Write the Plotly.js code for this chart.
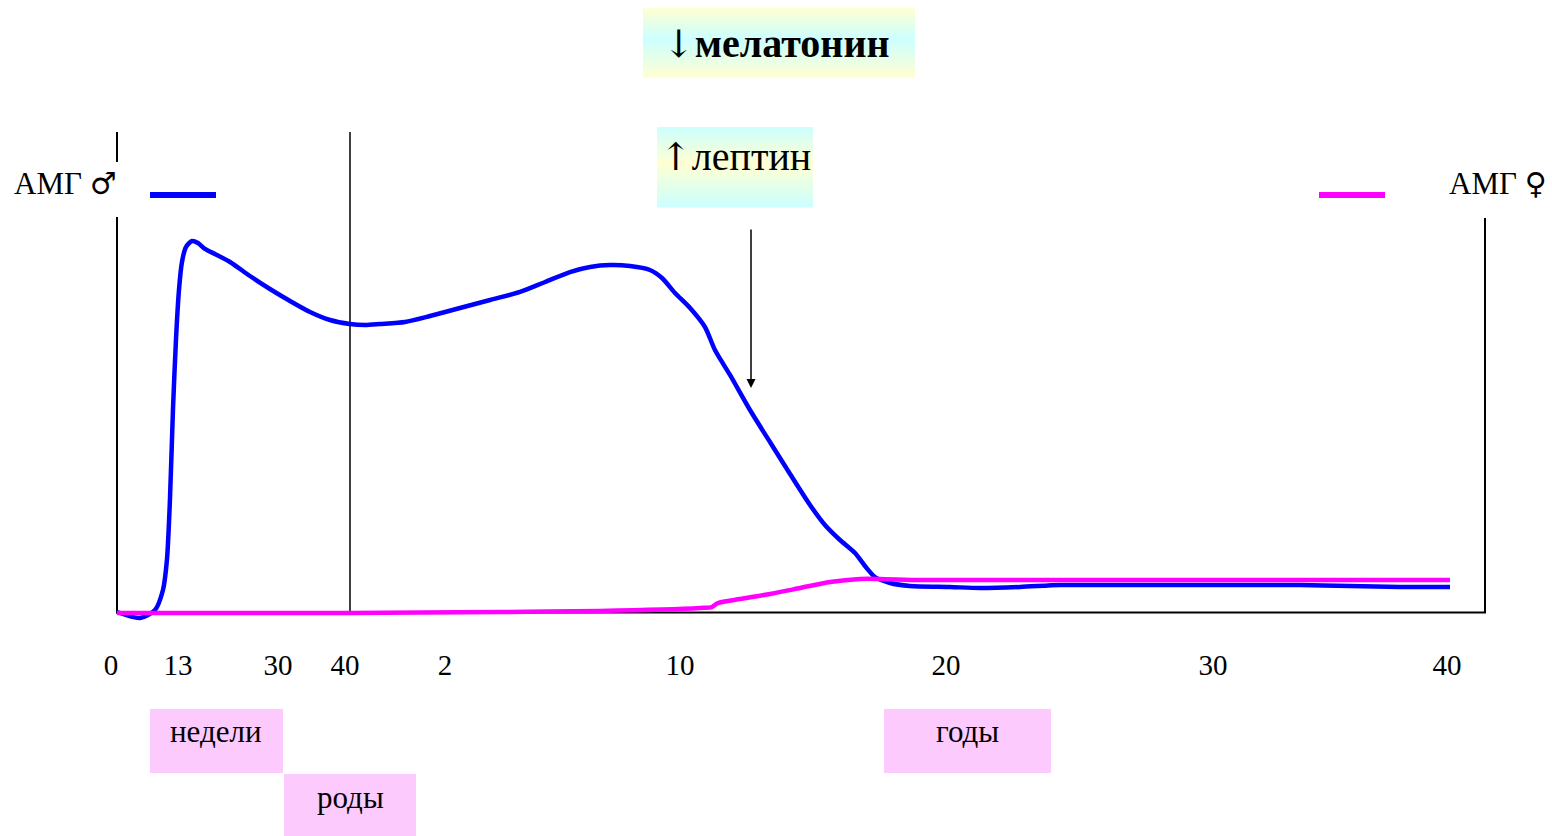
<!DOCTYPE html>
<html>
<head>
<meta charset="utf-8">
<script src="https://cdn.plot.ly/plotly-3.0.1.min.js"></script>
<style>html,body{margin:0;padding:0;background:#fff;}#chart{width:1552px;height:836px;}</style>
</head>
<body>
<div id="chart"></div>
<script>
// ---- data (axis units: x = position along the nonlinear age axis 0..100, y = relative AMH level 0..100)
const tickPositions = [-0.44, 4.46, 11.77, 16.67, 23.98, 41.15, 60.6, 80.12, 97.22];
const tickLabels = ["0", "13", "30", "40", "2", "10", "20", "30", "40"];

const amhMaleX = [0, 1.68, 2.78, 3.36, 3.65, 3.87, 4.09, 4.31, 4.53, 4.75, 5.04, 5.48, 5.92, 6.43, 7.16, 8.26, 9.72, 11.18, 12.65, 14.11, 15.57, 17.03, 18.13, 19.23, 21.05, 22.88, 25.07, 27.27, 29.46, 31.29, 33.11, 34.58, 36.04, 37.5, 38.96, 39.84, 40.79, 41.89, 42.98, 43.71, 44.81, 46.27, 47.73, 49.2, 50.66, 51.75, 52.85, 53.95, 54.68, 55.41, 56.51, 57.97, 60.89, 63.08, 66.01, 68.93, 71.86, 79.17, 86.48, 90.13, 93.79, 97.44];
const amhMaleY = [0, -1.25, 0.42, 4.58, 10.83, 23.33, 42.08, 56.67, 67.08, 72.92, 76.04, 77.29, 76.88, 75.63, 74.58, 72.92, 70, 67.29, 64.79, 62.5, 60.83, 60, 59.79, 60, 60.42, 61.67, 63.33, 65, 66.67, 68.75, 70.83, 71.88, 72.29, 72.08, 71.25, 69.58, 66.46, 63.33, 59.38, 54.58, 49.38, 42.08, 35.42, 28.75, 22.29, 18.13, 15, 12.29, 9.58, 7.29, 6.04, 5.42, 5.21, 5, 5.21, 5.63, 5.63, 5.63, 5.63, 5.42, 5.21, 5.21];

const amhFemaleX = [0, 17.03, 28, 35.31, 42.62, 43.49, 43.93, 45.54, 47.73, 49.93, 52.12, 54.31, 55.77, 58.7, 64.55, 79.17, 97.44];
const amhFemaleY = [-0.21, -0.21, 0, 0.21, 0.83, 1.04, 1.88, 2.71, 3.75, 5, 6.25, 6.88, 6.88, 6.67, 6.67, 6.67, 6.67];

const seriesNames = ["АМГ ♂", "АМГ ♀"];
const seriesColors = ["#0000ff", "#ff00ff"];
const hormoneNames = ["мелатонин", "лептин"];
const hormoneArrows = ["↓", "↑"];
const periodLabels = ["недели", "роды", "годы"];

// ---- layout helpers (pixel -> paper)
const W = 1552, H = 836, PLOT_H = 630;
const px = v => v / W;
const py = v => (PLOT_H - v) / PLOT_H;
const FONT = "Liberation Serif, Times New Roman, serif";
const SYM = (s, size) => `<span style="font-family:'DejaVu Serif';font-size:${size}px">${s}</span>`;

const shapes = [];
function line(x0, y0, x1, y1, color, width) {
  shapes.push({type: "line", xref: "paper", yref: "paper", x0: px(x0), y0: py(y0), x1: px(x1), y1: py(y1),
    line: {color: color, width: width}, layer: "below"});
}
function rect(x0, y0, x1, y1, color) {
  shapes.push({type: "rect", xref: "paper", yref: "paper", x0: px(x0), y0: py(y0), x1: px(x1), y1: py(y1),
    fillcolor: color, line: {width: 0}, layer: "below"});
}
function mix(c1, c2, t) {
  const r = Math.round(c1[0] + (c2[0] - c1[0]) * t);
  const g = Math.round(c1[1] + (c2[1] - c1[1]) * t);
  const b = Math.round(c1[2] + (c2[2] - c1[2]) * t);
  return `rgb(${r},${g},${b})`;
}
// vertical gradient box: stops list of [fraction, [r,g,b]]
function gradBox(x0, y0, x1, y1, stops) {
  const n = 30;
  const h = (y1 - y0) / n;
  for (let i = 0; i < n; i++) {
    const f = (i + 0.5) / n;
    let k = 0;
    while (k < stops.length - 2 && f > stops[k + 1][0]) k++;
    const a = stops[k], b = stops[k + 1];
    const t = Math.min(1, Math.max(0, (f - a[0]) / (b[0] - a[0])));
    rect(x0, y0 + i * h, x1, y0 + (i + 1) * h + 0.6, mix(a[1], b[1], t));
  }
}
const YEL = [255, 255, 210], CYN = [204, 255, 255];
gradBox(643, 8, 915, 77, [[0, YEL], [0.45, CYN], [1, YEL]]);
gradBox(657, 127, 813, 207, [[0, CYN], [0.45, YEL], [1, CYN]]);

const PINK = "#fccafc";
rect(150, 709, 283, 773, PINK);
rect(284, 774, 416, 836, PINK);
rect(884, 709, 1051, 773, PINK);

// frame lines
line(117, 132, 117, 162, "#000", 2);
line(117, 217, 117, 613, "#000", 2);
line(116, 612.5, 1486, 612.5, "#000", 2);
line(1485, 218, 1485, 613, "#000", 2);
line(350, 132, 350, 612, "#000", 1.5);
// legend sample lines
line(150, 195, 216, 195, seriesColors[0], 6);
line(1319, 195, 1385, 195, seriesColors[1], 6);

const nameText = n => n.replace("♂", SYM("♂", 30)).replace("♀", SYM("♀", 30));

const annotations = [
  {text: nameText(seriesNames[0]), x: px(12), y: py(184), xanchor: "left", yanchor: "middle"},
  {text: nameText(seriesNames[1]), x: px(1447), y: py(184), xanchor: "left", yanchor: "middle"},
  {text: SYM(hormoneArrows[0], 38) + "<b>" + hormoneNames[0] + "</b>", x: px(776), y: py(44), xanchor: "center", yanchor: "middle", font: {size: 40}},
  {text: SYM(hormoneArrows[1], 38) + hormoneNames[1], x: px(735), y: py(156), xanchor: "center", yanchor: "middle", font: {size: 40}},
  {text: periodLabels[0], x: px(216), y: py(731), xanchor: "center", yanchor: "middle", font: {size: 31}},
  {text: periodLabels[1], x: px(350), y: py(797), xanchor: "center", yanchor: "middle", font: {size: 31}},
  {text: periodLabels[2], x: px(967), y: py(731), xanchor: "center", yanchor: "middle", font: {size: 31}},
  {text: "", x: px(751), y: py(388), ax: 0, ay: -160, showarrow: true, arrowhead: 2, arrowsize: 1.2, arrowwidth: 1.5, arrowcolor: "#000"}
].map(a => Object.assign({xref: "paper", yref: "paper", showarrow: false}, a));
annotations.forEach(a => { a.font = Object.assign({family: FONT, color: "#000", size: 31}, a.font || {}); });

const traces = [
  {x: amhMaleX, y: amhMaleY, name: seriesNames[0], type: "scatter", mode: "lines",
   line: {color: seriesColors[0], width: 4.5, shape: "spline", smoothing: 0.7}, cliponaxis: false},
  {x: amhFemaleX, y: amhFemaleY, name: seriesNames[1], type: "scatter", mode: "lines",
   line: {color: seriesColors[1], width: 4.5, shape: "spline", smoothing: 0.7}, cliponaxis: false}
];

const layout = {
  width: W, height: H,
  margin: {l: 0, r: 0, t: 0, b: H - PLOT_H, pad: 0},
  paper_bgcolor: "#fff", plot_bgcolor: "rgba(0,0,0,0)",
  showlegend: false,
  xaxis: {range: [-117 / 13.68, (W - 117) / 13.68], showgrid: false, zeroline: false, showline: false,
    tickmode: "array", tickvals: tickPositions, ticktext: tickLabels, ticks: "",
    ticklabelstandoff: 15, tickfont: {family: FONT, size: 29, color: "#000"}, fixedrange: true},
  yaxis: {range: [(612 - PLOT_H) / 4.8, 612 / 4.8], showgrid: false, zeroline: false, showline: false,
    showticklabels: false, ticks: "", fixedrange: true},
  shapes: shapes,
  annotations: annotations
};

Plotly.newPlot("chart", traces, layout, {displayModeBar: false, staticPlot: true});
</script>
</body>
</html>
